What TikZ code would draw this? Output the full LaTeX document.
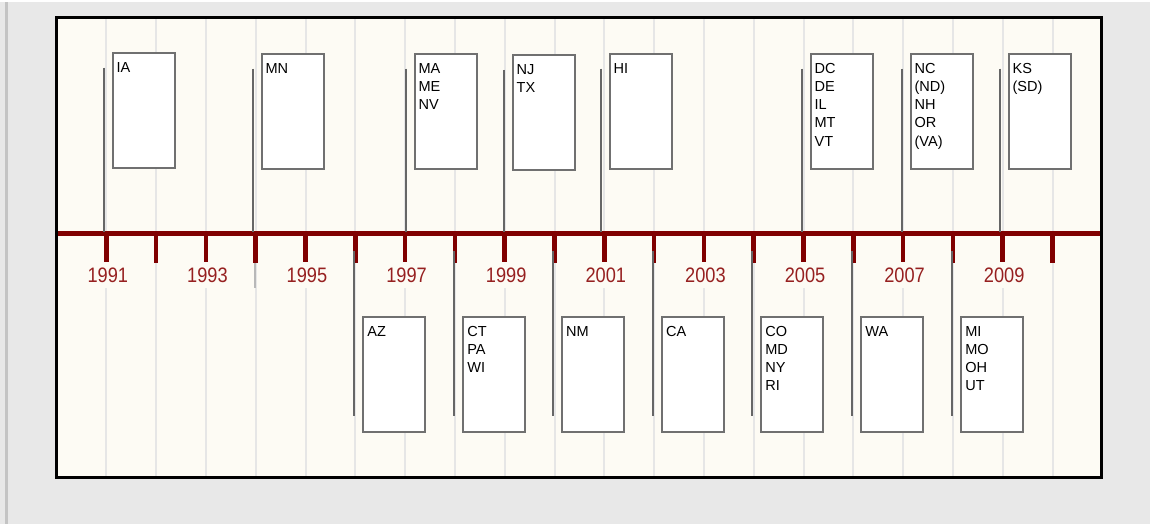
\documentclass[tikz,border=0pt]{standalone}
\usepackage{fontspec}
\setmainfont{Liberation Sans}
\newfontfamily\yearfont[FakeStretch=0.87]{Liberation Sans}
\definecolor{pagegray}{RGB}{232,232,232}
\definecolor{stripegray}{RGB}{196,196,196}
\definecolor{cream}{RGB}{253,251,244}
\definecolor{gridgray}{RGB}{230,230,230}
\definecolor{stubgray}{RGB}{184,184,184}
\definecolor{linered}{RGB}{128,0,0}
\definecolor{yearred}{RGB}{150,32,32}
\definecolor{stemgray}{RGB}{102,102,102}
\definecolor{boxgray}{RGB}{112,112,112}
\begin{document}
\begin{tikzpicture}[x=0.75pt, y=-0.75pt,
  statebox/.style={draw=boxgray, line width=1.4pt, fill=white, anchor=north west,
    inner xsep=3pt, inner ysep=3pt, text width=40.5pt, align=left,
    text height=11.6pt, text depth=68.65pt, font=\fontsize{10.9}{13.7}\selectfont},
  stem/.style={draw=stemgray, line width=1.5pt},
  gridline/.style={draw=gridgray, line width=1.5pt},
  tickmark/.style={draw=linered, line width=3.5pt},
  yearlabel/.style={font=\yearfont\fontsize{15.7}{16}\selectfont, text=yearred,
    fill=cream, inner sep=0pt, minimum height=19.5pt}]
\useasboundingbox (0,0) rectangle (1150,524);
\fill[white] (0,0) rectangle (1150,524);
\fill[pagegray] (0,2) rectangle (1150,524);
\fill[stripegray] (5,2) rectangle (7.7,524);
\fill[cream] (56.7,17.2) rectangle (1101.3,477.3);
% year grid
\foreach \k in {0,...,19}
  \draw[gridline] (106.3+49.8*\k,17.2) -- (106.3+49.8*\k,477.3);
\draw[stubgray, line width=1.5pt] (255,263) -- (255,288);
% time axis
\draw[linered, line width=3.75pt] (56.7,234) -- (1101.3,234);
\foreach \k in {0,...,19}
  \draw[tickmark] (106.3+49.8*\k,234) -- ++(0,28.7);
\foreach \yr in {1991,1993,...,2009}
  \node[yearlabel] (y\yr) at ({107.8+49.8*(\yr-1991)},275) {\yr};
% events above the axis
\foreach \cx/\top/\n/\txt in {104/51.7/ia/IA, 253/52.7/mn/MN, 406/52.7/ma/{MA\\ME\\NV},
    504/54/nj/{NJ\\TX}, 601/52.7/hi/HI, 802/52.7/dc/{DC\\DE\\IL\\MT\\VT},
    902/52.7/nc/{NC\\(ND)\\NH\\OR\\(VA)}, 1000/52.7/ks/{KS\\(SD)}} {
  \coordinate (\n-stem) at (\cx,\top+16);
  \coordinate (\n-foot) at (\cx,232);
  \draw[stem] (\n-stem) -- (\n-foot);
  \node[statebox] (\n) at (\cx+7.7,\top) {\txt};
}
% events below the axis
\foreach \cx/\n/\txt in {354/az/AZ, 454/ct/{CT\\PA\\WI}, 552.7/nm/NM, 652.7/ca/CA,
    752/co/{CO\\MD\\NY\\RI}, 852/wa/WA, 952/mi/{MI\\MO\\OH\\UT}} {
  \coordinate (\n-stem) at (\cx,251);
  \coordinate (\n-foot) at (\cx,416);
  \draw[stem] (\n-stem) -- (\n-foot);
  \node[statebox] (\n) at (\cx+8.4,315.7) {\txt};
}
\draw[line width=2pt] (56.7,17.2) rectangle (1101.3,477.3);
\end{tikzpicture}
\end{document}
